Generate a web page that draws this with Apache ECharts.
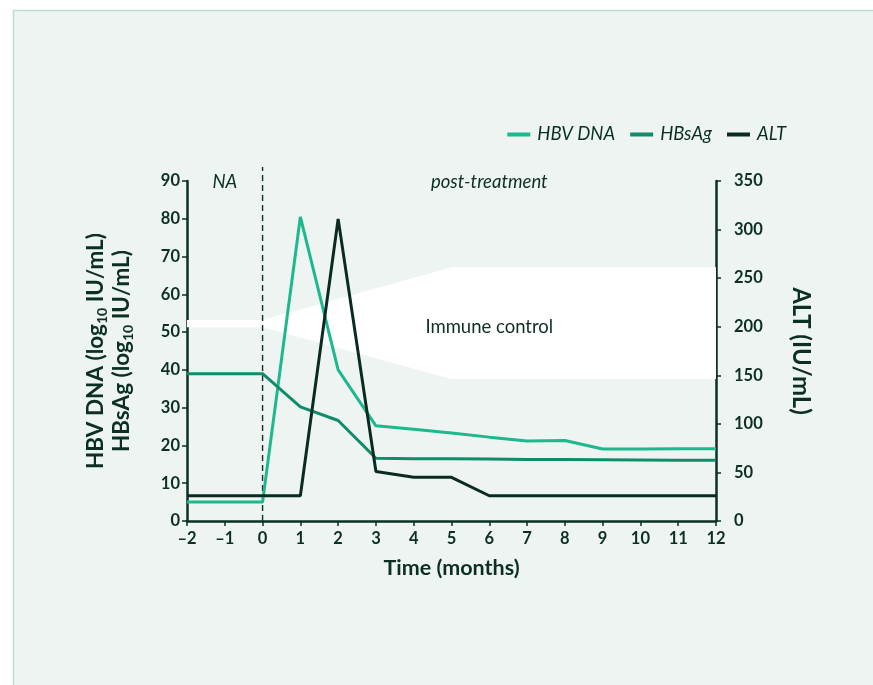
<!DOCTYPE html>
<html>
<head>
<meta charset="utf-8">
<script src="https://cdn.jsdelivr.net/npm/echarts@6/dist/echarts.min.js"></script>
<style>
  html, body { margin: 0; padding: 0; background: #fff; }
  #main { width: 873px; height: 685px; }
</style>
</head>
<body>
<div id="main"></div>
<script>
// 数据
const months = [-2, -1, 0, 1, 2, 3, 4, 5, 6, 7, 8, 9, 10, 11, 12]
const hbvDna = [5, 5, 5, 80.5, 40, 25.2, 24.3, 23.3, 22.2, 21.2, 21.3, 19.05, 19.05, 19.1, 19.1]
const hbsAg = [39, 39, 39, 30.2, 26.6, 16.6, 16.5, 16.45, 16.4, 16.3, 16.25, 16.2, 16.15, 16.1, 16.05]
const alt = [26, 26, 26, 26, 311, 51, 45, 45, 26, 26, 26, 26, 26, 26, 26]

// Immune control 区域
const bandX = [-2, 0, 5, 12]
const bandLow = [51.3, 51.3, 37.6, 37.6]
const bandHigh = [53.2, 53.2, 67.2, 67.2]

// 文本标注
const noteText = ['Immune control', 'NA', 'post-treatment']
const noteX = [6, -1, 6]
const noteY = [51.3, 89.6, 89.6]
const noteItalic = [false, true, true]

const dark = '#0b2f23'
const cDna = '#1db88d'
const cSag = '#0f8c6a'
const cAlt = '#0a2b20'
const font = 'Lato'

const pairs = (xs, ys) => xs.map((x, i) => [x, ys[i]])

const chart = echarts.init(document.getElementById('main'))

const tickLabel = { fontFamily: font, fontWeight: 'bold', fontSize: 16.5, color: dark }

const option = {
  backgroundColor: '#ffffff',
  animation: false,
  textStyle: { fontFamily: font, color: dark },
  graphic: [{
    type: 'rect',
    z: -10,
    shape: { x: 13.5, y: 10.5, width: 900, height: 700 },
    style: { fill: '#eef4f1', stroke: '#bcddd1', lineWidth: 1.5 }
  }],
  legend: {
    data: ['HBV DNA', 'HBsAg', 'ALT'],
    right: 82,
    top: 120,
    itemWidth: 23,
    itemHeight: 4,
    itemGap: 15,
    icon: 'rect',
    textStyle: { fontFamily: font, fontStyle: 'italic', fontSize: 18.5, color: dark, padding: [0, 0, 0, 2] }
  },
  grid: [
    { left: 187, right: 157, top: 181, bottom: 164 },
    { left: 187, right: 157, top: 167, bottom: 164 }
  ],
  xAxis: [{
    type: 'value',
    gridIndex: 0,
    min: -2,
    max: 12,
    interval: 1,
    name: 'Time (months)',
    nameLocation: 'middle',
    nameGap: 36,
    nameTextStyle: { fontFamily: font, fontWeight: 'bold', fontSize: 21.5, color: dark },
    axisLine: { onZero: false, lineStyle: { color: dark, width: 2.5 } },
    axisTick: { show: true, length: 5, lineStyle: { color: dark, width: 1.5 } },
    axisLabel: Object.assign({}, tickLabel, {
      margin: 9,
      formatter: v => (v < 0 ? '\u2013' + Math.abs(v) : String(v))
    }),
    splitLine: { show: false }
  }, {
    type: 'value',
    gridIndex: 1,
    min: -2,
    max: 12,
    show: false
  }],
  yAxis: [{
    type: 'value',
    gridIndex: 0,
    min: 0,
    max: 90,
    interval: 10,
    name: '{b|HBV DNA (log}{s|10}{b| IU/mL)}\n{b|HBsAg (log}{s|10}{b| IU/mL)}',
    nameLocation: 'middle',
    nameGap: 52,
    nameRotate: 90,
    nameTextStyle: {
      rich: {
        b: { fontFamily: font, fontWeight: 'bold', fontSize: 22.5, color: dark, lineHeight: 26 },
        s: { fontFamily: font, fontWeight: 'bold', fontSize: 14, color: dark, lineHeight: 26, verticalAlign: 'bottom', padding: [10, 0, 0, 0] }
      }
    },
    axisLine: { show: true, onZero: false, lineStyle: { color: dark, width: 2.5 } },
    axisTick: { show: true, length: 5, lineStyle: { color: dark, width: 1.5 } },
    axisLabel: Object.assign({}, tickLabel, { margin: 7 }),
    splitLine: { show: false }
  }, {
    type: 'value',
    gridIndex: 0,
    position: 'right',
    min: 0,
    max: 350,
    interval: 50,
    name: 'ALT (IU/mL)',
    nameLocation: 'middle',
    nameGap: 73,
    nameRotate: -90,
    nameTextStyle: { fontFamily: font, fontWeight: 'bold', fontSize: 24, color: dark },
    axisLine: { show: true, onZero: false, lineStyle: { color: dark, width: 2.5 } },
    axisTick: { show: true, length: 5, lineStyle: { color: dark, width: 1.5 } },
    axisLabel: Object.assign({}, tickLabel, { margin: 18 }),
    splitLine: { show: false }
  }, {
    type: 'value',
    gridIndex: 1,
    min: 0,
    max: 93.7,
    show: false
  }],
  series: [
    // 白色区域 Immune control
    {
      type: 'custom',
      silent: true,
      data: pairs(bandX, bandLow),
      encode: { x: 0, y: 1 },
      renderItem: (params, api) => {
        if (params.dataIndex !== 0) return
        const top = bandX.map((x, i) => api.coord([x, bandHigh[i]]))
        const bottom = bandX.map((x, i) => api.coord([x, bandLow[i]])).reverse()
        return {
          type: 'polygon',
          shape: { points: top.concat(bottom) },
          style: { fill: '#ffffff' }
        }
      },
      z: 1
    },
    // 文本标注
    {
      type: 'custom',
      silent: true,
      clip: false,
      data: pairs(noteX, noteY),
      encode: { x: 0, y: 1 },
      renderItem: (params, api) => {
        const i = params.dataIndex
        const p = api.coord([noteX[i], noteY[i]])
        return {
          type: 'text',
          x: p[0],
          y: p[1],
          style: {
            text: noteText[i],
            fill: '#0c2e23',
            font: (noteItalic[i] ? 'italic ' : '') + '18.5px ' + font,
            align: 'center',
            verticalAlign: 'middle'
          }
        }
      },
      z: 3
    },
    // 虚线
    {
      type: 'line',
      xAxisIndex: 1,
      yAxisIndex: 2,
      data: [[0, 0], [0, 93.7]],
      symbol: 'none',
      silent: true,
      lineStyle: { color: dark, width: 1.4, type: [6, 4] },
      z: 2
    },
    {
      name: 'HBV DNA',
      type: 'line',
      data: pairs(months, hbvDna),
      symbol: 'none',
      itemStyle: { color: cDna },
      lineStyle: { width: 3, color: cDna },
      z: 5
    },
    {
      name: 'HBsAg',
      type: 'line',
      data: pairs(months, hbsAg),
      symbol: 'none',
      itemStyle: { color: cSag },
      lineStyle: { width: 3, color: cSag },
      z: 5
    },
    {
      name: 'ALT',
      type: 'line',
      yAxisIndex: 1,
      data: pairs(months, alt),
      symbol: 'none',
      itemStyle: { color: cAlt },
      lineStyle: { width: 3, color: cAlt },
      z: 5
    }
  ]
}

chart.setOption(option)
</script>
</body>
</html>
